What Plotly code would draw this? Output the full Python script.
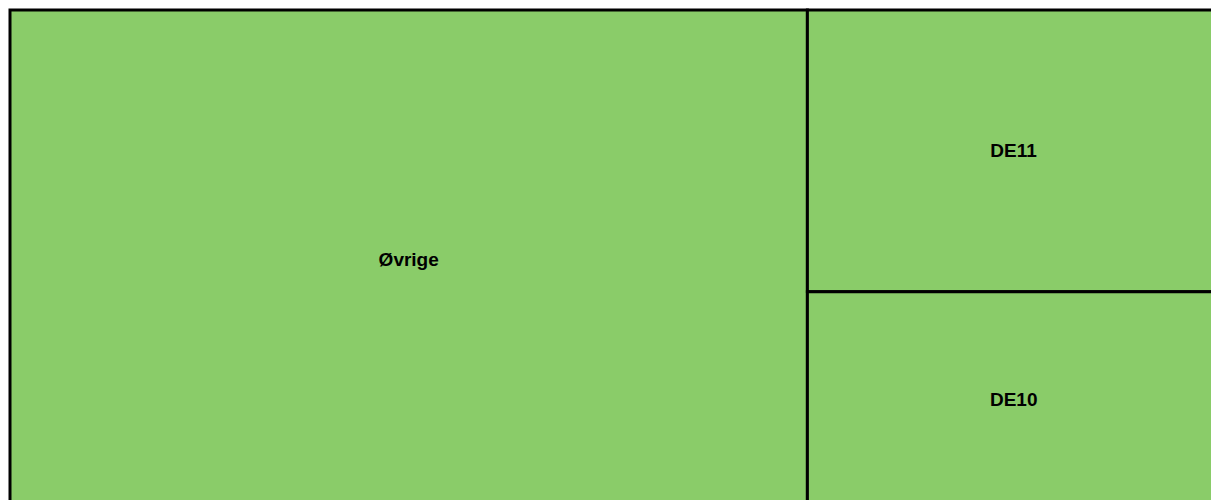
import plotly.graph_objects as go

labels = ["Øvrige", "DE11", "DE10"]
parents = ["", "", ""]
values = [65.9, 19.3, 14.8]
colors = ["#8acc69", "#8acc69", "#8acc69"]

fig = go.Figure(go.Treemap(
    labels=labels,
    parents=parents,
    values=values,
    sort=True,
    marker=dict(colors=colors, line=dict(color="#000000", width=3),
                pad=dict(t=0, l=0, r=0, b=0)),
    texttemplate="<b>%{label}</b>",
    textposition="middle center",
    textfont=dict(family="Liberation Sans, Arial, sans-serif", size=19, color="#000000"),
    pathbar=dict(visible=False),
    tiling=dict(squarifyratio=1, pad=0),
))

fig.update_layout(
    width=1220,
    height=508,
    margin=dict(l=10, r=0, t=10, b=0),
    paper_bgcolor="white",
    showlegend=False,
)

fig.write_html(
    "out.html",
    config={"displayModeBar": False},
    post_script=(
        "document.documentElement.style.overflow='hidden';"
        "document.body.style.margin='0';"
        "document.body.style.overflow='visible';"
    ),
)
